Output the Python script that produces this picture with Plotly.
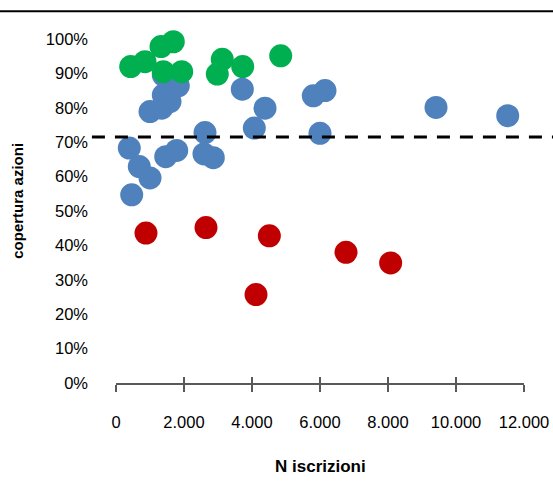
import plotly.graph_objects as go

# --- data ---
blue_x = [1000, 1344, 1391, 1588, 1832, 1391, 3715, 4382, 4068, 2618, 2588, 2862,
          1462, 1785, 391, 685, 1000, 462, 5803, 6147, 6000, 9412, 11521]
blue_y = [0.789, 0.799, 0.837, 0.818, 0.864, 0.895, 0.854, 0.799, 0.741, 0.728, 0.666, 0.655,
          0.658, 0.676, 0.683, 0.629, 0.596, 0.547, 0.835, 0.850, 0.726, 0.801, 0.777]

red_x = [882, 2647, 4510, 4118, 6765, 8078]
red_y = [0.436, 0.452, 0.428, 0.257, 0.380, 0.349]

green_x = [432, 853, 1324, 1685, 1391, 1932, 3126, 2979, 3726, 4844]
green_y = [0.920, 0.934, 0.978, 0.992, 0.905, 0.905, 0.941, 0.898, 0.920, 0.951]

threshold = 0.715

x_ticks = [0, 2000, 4000, 6000, 8000, 10000, 12000]
x_tick_labels = ["0", "2.000", "4.000", "6.000", "8.000", "10.000", "12.000"]
y_ticks = [i / 10 for i in range(11)]
y_tick_labels = [f"{i*10}%" for i in range(11)]

FONT = "Liberation Sans, Arial, sans-serif"
AXIS_COL = "#595959"

fig = go.Figure()
for xs, ys, col in [(blue_x, blue_y, "#4F81BD"), (red_x, red_y, "#C00000"), (green_x, green_y, "#00B050")]:
    fig.add_trace(go.Scatter(x=xs, y=ys, mode="markers", cliponaxis=False,
                             marker=dict(size=23, color=col, line=dict(width=0)),
                             showlegend=False))
# helper trace for the inside half of the cross ticks
fig.add_trace(go.Scatter(x=[None], y=[None], xaxis="x2", showlegend=False, hoverinfo="skip"))

fig.add_shape(type="line", xref="paper", yref="y", x0=-0.059, x1=1.08, y0=threshold, y1=threshold,
              line=dict(color="black", width=3, dash="13px,10px"))
# top border line
fig.add_shape(type="line", xref="paper", yref="paper", x0=-0.3, x1=1.1, y0=1.081, y1=1.081,
              line=dict(color="black", width=2))

fig.update_layout(
    width=553, height=486,
    margin=dict(l=116, r=29, t=39, b=103, autoexpand=False),
    paper_bgcolor="white", plot_bgcolor="white",
    font=dict(family=FONT, size=16.5, color="black"),
    xaxis=dict(range=[0, 12000], tickvals=x_ticks, ticktext=x_tick_labels, automargin=False,
               showgrid=False, zeroline=False, showline=True, linecolor=AXIS_COL, linewidth=2,
               ticks="outside", ticklen=7, tickwidth=2, tickcolor=AXIS_COL,
               ticklabelstandoff=16, tickfont=dict(size=16.5)),
    xaxis2=dict(range=[0, 12000], overlaying="x", anchor="y", side="bottom", automargin=False,
                tickvals=x_ticks, showticklabels=False, showgrid=False, zeroline=False,
                showline=False, ticks="inside", ticklen=6, tickwidth=2, tickcolor=AXIS_COL),
    yaxis=dict(range=[0, 1], tickvals=y_ticks, ticktext=y_tick_labels, automargin=False,
               showgrid=False, zeroline=False, showline=False, ticks="",
               ticklabelstandoff=27, tickfont=dict(size=16.5)),
    annotations=[
        dict(text="<b>N iscrizioni</b>", xref="paper", yref="paper", x=0.5, y=-0.244,
             showarrow=False, font=dict(size=17), xanchor="center", yanchor="middle"),
        dict(text="<b>copertura azioni</b>", xref="paper", yref="paper", x=-0.240, y=0.53,
             showarrow=False, font=dict(size=15), textangle=-90, xanchor="center", yanchor="middle"),
    ],
)

fig.write_html("out.html", config={"displayModeBar": False},
               post_script="document.body.style.margin='0';")
